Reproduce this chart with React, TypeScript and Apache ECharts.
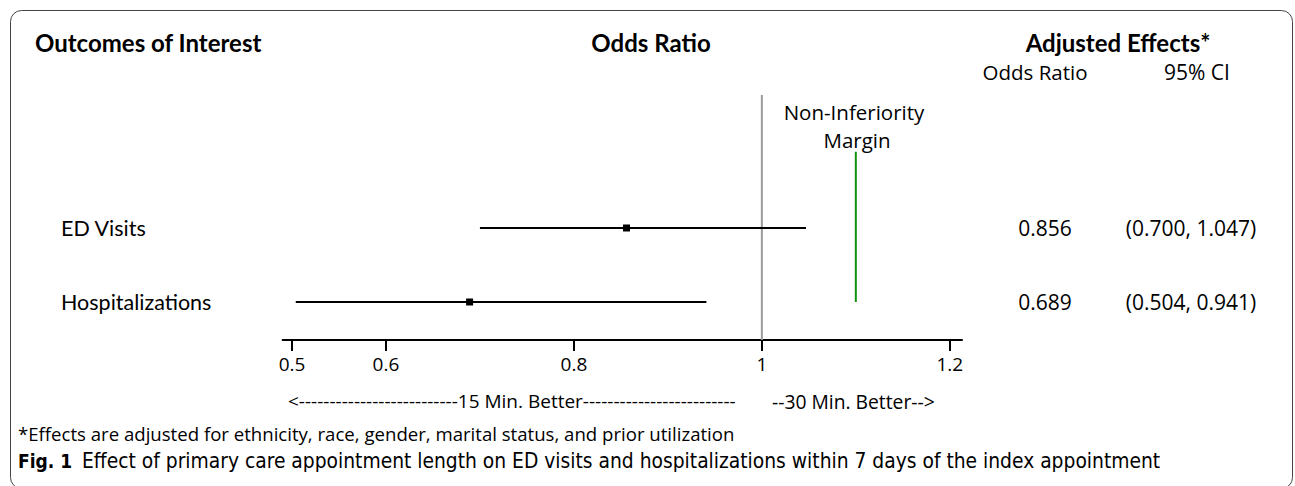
import React, { useEffect, useRef } from "react";
import * as echarts from "echarts";

const outcomes = ["ED Visits", "Hospitalizations"];
const oddsRatio = [0.856, 0.689];
const ciLower = [0.7, 0.504];
const ciUpper = [1.047, 0.941];
const xTicks = [0.5, 0.6, 0.8, 1, 1.2];
const nullValue = 1;
const marginValue = 1.1;
const marginTop = 3.03;
const betterLeft = "<--------------------------15 Min. Better-------------------------";
const betterRight = "--30 Min. Better-->";
const footnote = "*Effects are adjusted for ethnicity, race, gender, marital status, and prior utilization";
const captionLabel = "Fig. 1";
const captionText = "Effect of primary care appointment length on ED visits and hospitalizations within 7 days of the index appointment";

const sansBold = "Lato, 'Open Sans', sans-serif";
const sansReg = "'Open Sans', 'Noto Sans', sans-serif";
const narrow = "'Liberation Sans Narrow', 'DejaVu Sans Condensed', 'Open Sans', sans-serif";

function fmt(v: number) {
  return v.toFixed(3);
}

export default function App() {
  const ref = useRef<HTMLDivElement>(null);
  useEffect(() => {
    if (!ref.current) return;
    const chart = echarts.init(ref.current, null, { renderer: "svg" });
    const rowY = (i: number) => outcomes.length - i;
    const option: any = {
      animation: false,
      grid: { left: 282.6, right: 333, top: 95, bottom: 146 },
      xAxis: {
        type: "value",
        min: 0.49,
        max: 1.213,
        splitLine: { show: false },
        axisLine: { lineStyle: { color: "#000", width: 2 } },
        axisTick: { customValues: xTicks, length: 11, lineStyle: { color: "#000", width: 2 } },
        axisLabel: {
          customValues: xTicks,
          formatter: (v: number) => String(v),
          color: "#000",
          fontSize: 19,
          fontFamily: sansReg,
          margin: 14,
        },
      },
      yAxis: {
        type: "value",
        min: 0.4865,
        max: 3.797,
        show: false,
      },
      series: [
        {
          type: "custom",
          data: outcomes.map((_, i) => [ciLower[i], ciUpper[i], oddsRatio[i], rowY(i)]),
          renderItem: (params: any, api: any) => {
            const lo = api.coord([api.value(0), api.value(3)]);
            const hi = api.coord([api.value(1), api.value(3)]);
            const pt = api.coord([api.value(2), api.value(3)]);
            return {
              type: "group",
              children: [
                {
                  type: "line",
                  shape: { x1: lo[0], y1: lo[1], x2: hi[0], y2: hi[1] },
                  style: { stroke: "#000", lineWidth: 2 },
                },
                {
                  type: "rect",
                  shape: { x: pt[0] - 3.5, y: pt[1] - 3.5, width: 7, height: 7 },
                  style: { fill: "#000" },
                },
              ],
            };
          },
          z: 5,
        },
        {
          type: "line",
          data: [
            [marginValue, 1],
            [marginValue, marginTop],
          ],
          symbol: "none",
          lineStyle: { color: "#119111", width: 2 },
          z: 2,
        },
        {
          type: "line",
          data: [
            [nullValue, 0.4865],
            [nullValue, 3.797],
          ],
          symbol: "none",
          lineStyle: { color: "#9a9a9a", width: 2 },
          z: 1,
        },
      ],
    };
    chart.setOption(option);

    const graphics: any[] = [
      {
        type: "rect",
        shape: { x: 10.5, y: 10.5, width: 1282, height: 478, r: 11 },
        style: { fill: "none", stroke: "#444", lineWidth: 1 },
        silent: true,
      },
      { type: "text", x: 35, y: 42, style: { text: "Outcomes of Interest", font: `bold 24px ${sansBold}`, fill: "#000", textVerticalAlign: "middle" } },
      { type: "text", x: 651, y: 42, style: { text: "Odds Ratio", font: `bold 24px ${sansBold}`, fill: "#000", textAlign: "center", textVerticalAlign: "middle" } },
      { type: "text", x: 1118, y: 42, style: { text: "Adjusted Effects*", font: `bold 24px ${sansBold}`, fill: "#000", textAlign: "center", textVerticalAlign: "middle" } },
      { type: "text", x: 1035, y: 72, style: { text: "Odds Ratio", font: `20.5px ${sansReg}`, fill: "#000", textAlign: "center", textVerticalAlign: "middle" } },
      { type: "text", x: 1197, y: 72, style: { text: "95% CI", font: `21px ${sansReg}`, fill: "#000", textAlign: "center", textVerticalAlign: "middle" } },
      { type: "text", x: 854, y: 112, style: { text: "Non-Inferiority", font: `20.5px ${sansReg}`, fill: "#000", textAlign: "center", textVerticalAlign: "middle" } },
      { type: "text", x: 857, y: 140, style: { text: "Margin", font: `20.5px ${sansReg}`, fill: "#000", textAlign: "center", textVerticalAlign: "middle" } },
      { type: "text", x: 288, y: 401, style: { text: betterLeft, font: `19px ${sansReg}`, fill: "#000", textVerticalAlign: "middle" } },
      { type: "text", x: 772, y: 401, style: { text: betterRight, font: `19.3px ${sansReg}`, fill: "#000", textVerticalAlign: "middle" } },
      { type: "text", x: 18, y: 433, style: { text: footnote, font: `18.6px ${sansReg}`, fill: "#000", textVerticalAlign: "middle" } },
      { type: "text", x: 18, y: 461, style: { text: captionLabel, font: `bold 19px ${narrow}`, fill: "#000", textVerticalAlign: "middle" } },
      { type: "text", x: 82, y: 461, style: { text: captionText, font: `20.8px ${narrow}`, fill: "#000", textVerticalAlign: "middle" } },
    ];
    outcomes.forEach((name, i) => {
      const y = chart.convertToPixel({ gridIndex: 0 }, [1, rowY(i)])[1];
      graphics.push(
        { type: "text", x: 61, y, style: { text: name, font: `21.5px ${sansBold}`, fill: "#000", textVerticalAlign: "middle" } },
        { type: "text", x: 1045, y, style: { text: fmt(oddsRatio[i]), font: `21px ${sansReg}`, fill: "#000", textAlign: "center", textVerticalAlign: "middle" } },
        { type: "text", x: 1191, y, style: { text: `(${fmt(ciLower[i])}, ${fmt(ciUpper[i])})`, font: `21px ${sansReg}`, fill: "#000", textAlign: "center", textVerticalAlign: "middle" } }
      );
    });
    chart.setOption({ graphic: graphics });
    return () => chart.dispose();
  }, []);
  return (
    <div
      ref={ref}
      style={{ position: "absolute", left: 0, top: 0, width: 1295, height: 486, background: "#fff" }}
    />
  );
}
